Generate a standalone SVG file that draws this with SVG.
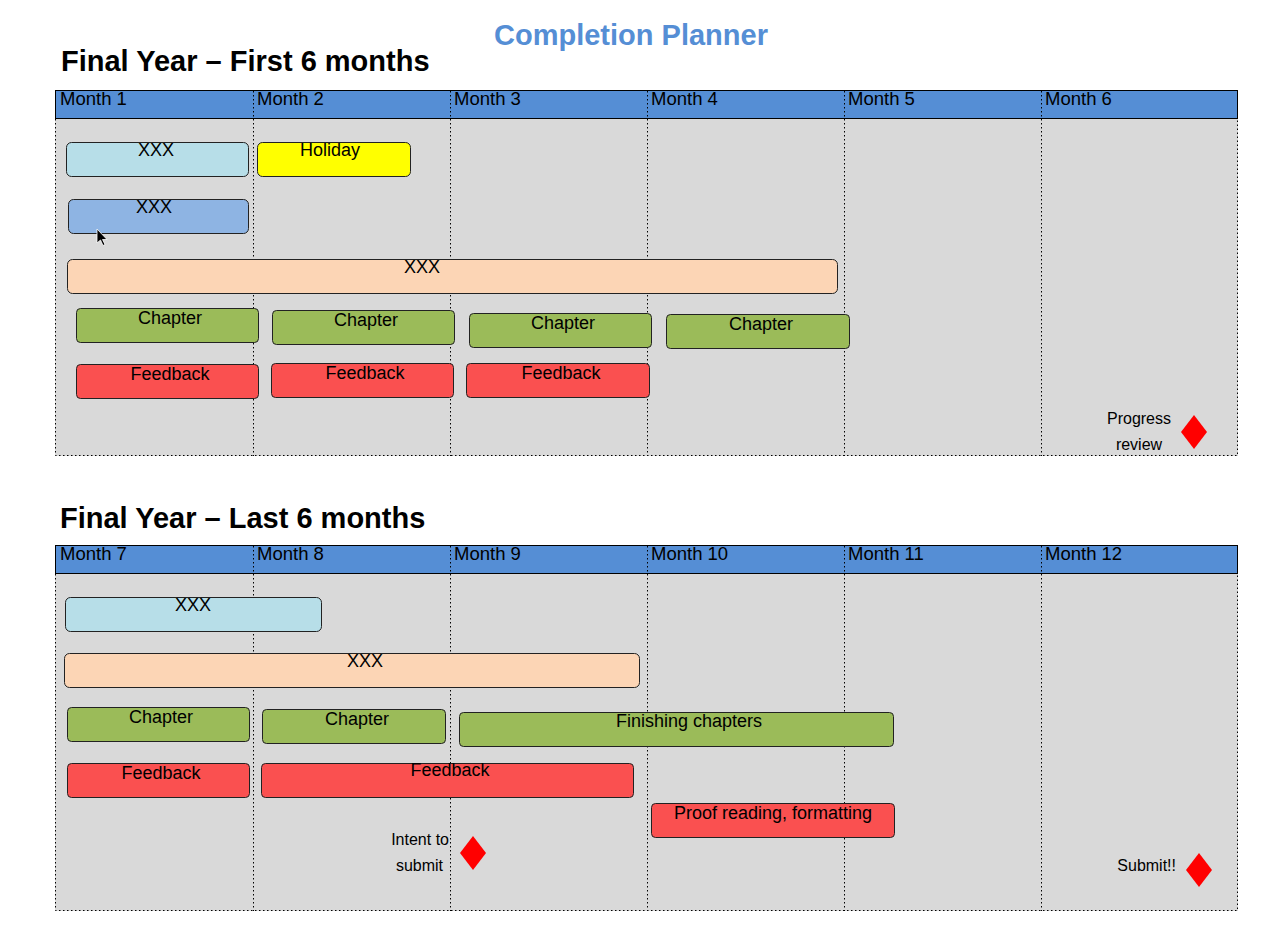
<svg xmlns="http://www.w3.org/2000/svg" width="1287" height="929" viewBox="0 0 1287 929">
<style>
text{font-family:"Liberation Sans",Arial,sans-serif;fill:#000}
.title{font-size:29px;font-weight:bold;fill:#558ED5}
.h{font-size:29px;font-weight:bold}
.m{font-size:18.5px}
.b{font-size:18px;text-anchor:middle}
.s{font-size:16px}
.area{fill:#D9D9D9}
.dot{stroke:#000;stroke-width:1;stroke-dasharray:1.5 2.5;fill:none}
.hdr{fill:#558ED5;stroke:#000;stroke-width:1}
.bar{stroke:#222;stroke-width:1}
.lb{fill:#B7DEE8}.bl{fill:#8EB4E3}.pe{fill:#FCD5B5}.gr{fill:#9BBB59}.rd{fill:#FA5050}.ye{fill:#FFFF00}
.dia{fill:#FF0000}
</style>
<rect width="1287" height="929" fill="#fff"/>
<text class="title" x="631" y="45" text-anchor="middle">Completion Planner</text>

<g id="panel1">
<text class="h" x="61" y="71">Final Year – First 6 months</text>
<rect class="area" x="55" y="118" width="1183" height="338"/>
<rect class="dot" x="55.5" y="118.5" width="1182" height="337"/>
<rect class="hdr" x="55.5" y="90.5" width="1182" height="28"/>
<path class="dot" d="M253.5 91V456M450.5 91V456M647.5 91V456M844.5 91V456M1041.5 91V456"/>
<text class="m" x="60" y="105">Month 1</text>
<text class="m" x="257" y="105">Month 2</text>
<text class="m" x="454" y="105">Month 3</text>
<text class="m" x="651" y="105">Month 4</text>
<text class="m" x="848" y="105">Month 5</text>
<text class="m" x="1045" y="105">Month 6</text>
</g>

<g id="p1-xxx1"><rect class="bar lb" x="66.5" y="142.5" width="182" height="34" rx="5"/><text class="b" x="156" y="156">XXX</text></g>
<g id="p1-holiday"><rect class="bar ye" x="257.5" y="142.5" width="153" height="34" rx="5"/><text class="b" x="330" y="156">Holiday</text></g>
<g id="p1-xxx2"><rect class="bar bl" x="68.5" y="199.5" width="180" height="34" rx="5"/><text class="b" x="154" y="213">XXX</text></g>
<g id="p1-xxx3"><rect class="bar pe" x="67.5" y="259.5" width="770" height="34" rx="5"/><text class="b" x="422" y="273">XXX</text></g>
<g id="p1-ch1"><rect class="bar gr" x="76.5" y="308.5" width="182" height="34" rx="4"/><text class="b" x="170" y="324">Chapter</text></g>
<g id="p1-ch2"><rect class="bar gr" x="272.5" y="310.5" width="182" height="34" rx="4"/><text class="b" x="366" y="326">Chapter</text></g>
<g id="p1-ch3"><rect class="bar gr" x="469.5" y="313.5" width="182" height="34" rx="4"/><text class="b" x="563" y="329">Chapter</text></g>
<g id="p1-ch4"><rect class="bar gr" x="666.5" y="314.5" width="183" height="34" rx="4"/><text class="b" x="761" y="330">Chapter</text></g>
<g id="p1-fb1"><rect class="bar rd" x="76.5" y="364.5" width="182" height="34" rx="4"/><text class="b" x="170" y="380">Feedback</text></g>
<g id="p1-fb2"><rect class="bar rd" x="271.5" y="363.5" width="182" height="34" rx="4"/><text class="b" x="365" y="379">Feedback</text></g>
<g id="p1-fb3"><rect class="bar rd" x="466.5" y="363.5" width="183" height="34" rx="4"/><text class="b" x="561" y="379">Feedback</text></g>
<g id="p1-review">
<text class="s" x="1139" y="424" text-anchor="middle">Progress</text>
<text class="s" x="1139" y="450" text-anchor="middle">review</text>
<polygon class="dia" points="1194,415 1207,432 1194,449 1181,432"/>
</g>

<g id="cursor"><path d="M97 229 L97 243 L100.5 240 L103 245.5 L105 244.5 L102.5 239.5 L107 239.5 Z" fill="#000" stroke="#fff" stroke-width="0.8"/></g>

<g id="panel2">
<text class="h" x="60" y="528">Final Year – Last 6 months</text>
<rect class="area" x="55" y="573" width="1183" height="338"/>
<rect class="dot" x="55.5" y="573.5" width="1182" height="337"/>
<rect class="hdr" x="55.5" y="545.5" width="1182" height="28"/>
<path class="dot" d="M253.5 546V911M450.5 546V911M647.5 546V911M844.5 546V911M1041.5 546V911"/>
<text class="m" x="60" y="560">Month 7</text>
<text class="m" x="257" y="560">Month 8</text>
<text class="m" x="454" y="560">Month 9</text>
<text class="m" x="651" y="560">Month 10</text>
<text class="m" x="848" y="560">Month 11</text>
<text class="m" x="1045" y="560">Month 12</text>
</g>

<g id="p2-xxx1"><rect class="bar lb" x="65.5" y="597.5" width="256" height="34" rx="5"/><text class="b" x="193" y="611">XXX</text></g>
<g id="p2-xxx2"><rect class="bar pe" x="64.5" y="653.5" width="575" height="34" rx="5"/><text class="b" x="365" y="667">XXX</text></g>
<g id="p2-ch1"><rect class="bar gr" x="67.5" y="707.5" width="182" height="34" rx="4"/><text class="b" x="161" y="723">Chapter</text></g>
<g id="p2-ch2"><rect class="bar gr" x="262.5" y="709.5" width="183" height="34" rx="4"/><text class="b" x="357" y="725">Chapter</text></g>
<g id="p2-finish"><rect class="bar gr" x="459.5" y="712.5" width="434" height="34" rx="4"/><text class="b" x="689" y="727">Finishing chapters</text></g>
<g id="p2-fb1"><rect class="bar rd" x="67.5" y="763.5" width="182" height="34" rx="4"/><text class="b" x="161" y="779">Feedback</text></g>
<g id="p2-fb2"><rect class="bar rd" x="261.5" y="763.5" width="372" height="34" rx="4"/><text class="b" x="450" y="776">Feedback</text></g>
<g id="p2-proof"><rect class="bar rd" x="651.5" y="803.5" width="243" height="34" rx="4"/><text class="b" x="773" y="819">Proof reading, formatting</text></g>
<g id="p2-intent">
<text class="s" x="449" y="845" text-anchor="end">Intent to</text>
<text class="s" x="443" y="871" text-anchor="end">submit</text>
<polygon class="dia" points="473,836 486,853 473,870 460,853"/>
</g>
<g id="p2-submit">
<text class="s" x="1176" y="871" text-anchor="end">Submit!!</text>
<polygon class="dia" points="1199,853 1212,870 1199,887 1186,870"/>
</g>

<g id="connectors"></g>
</svg>
